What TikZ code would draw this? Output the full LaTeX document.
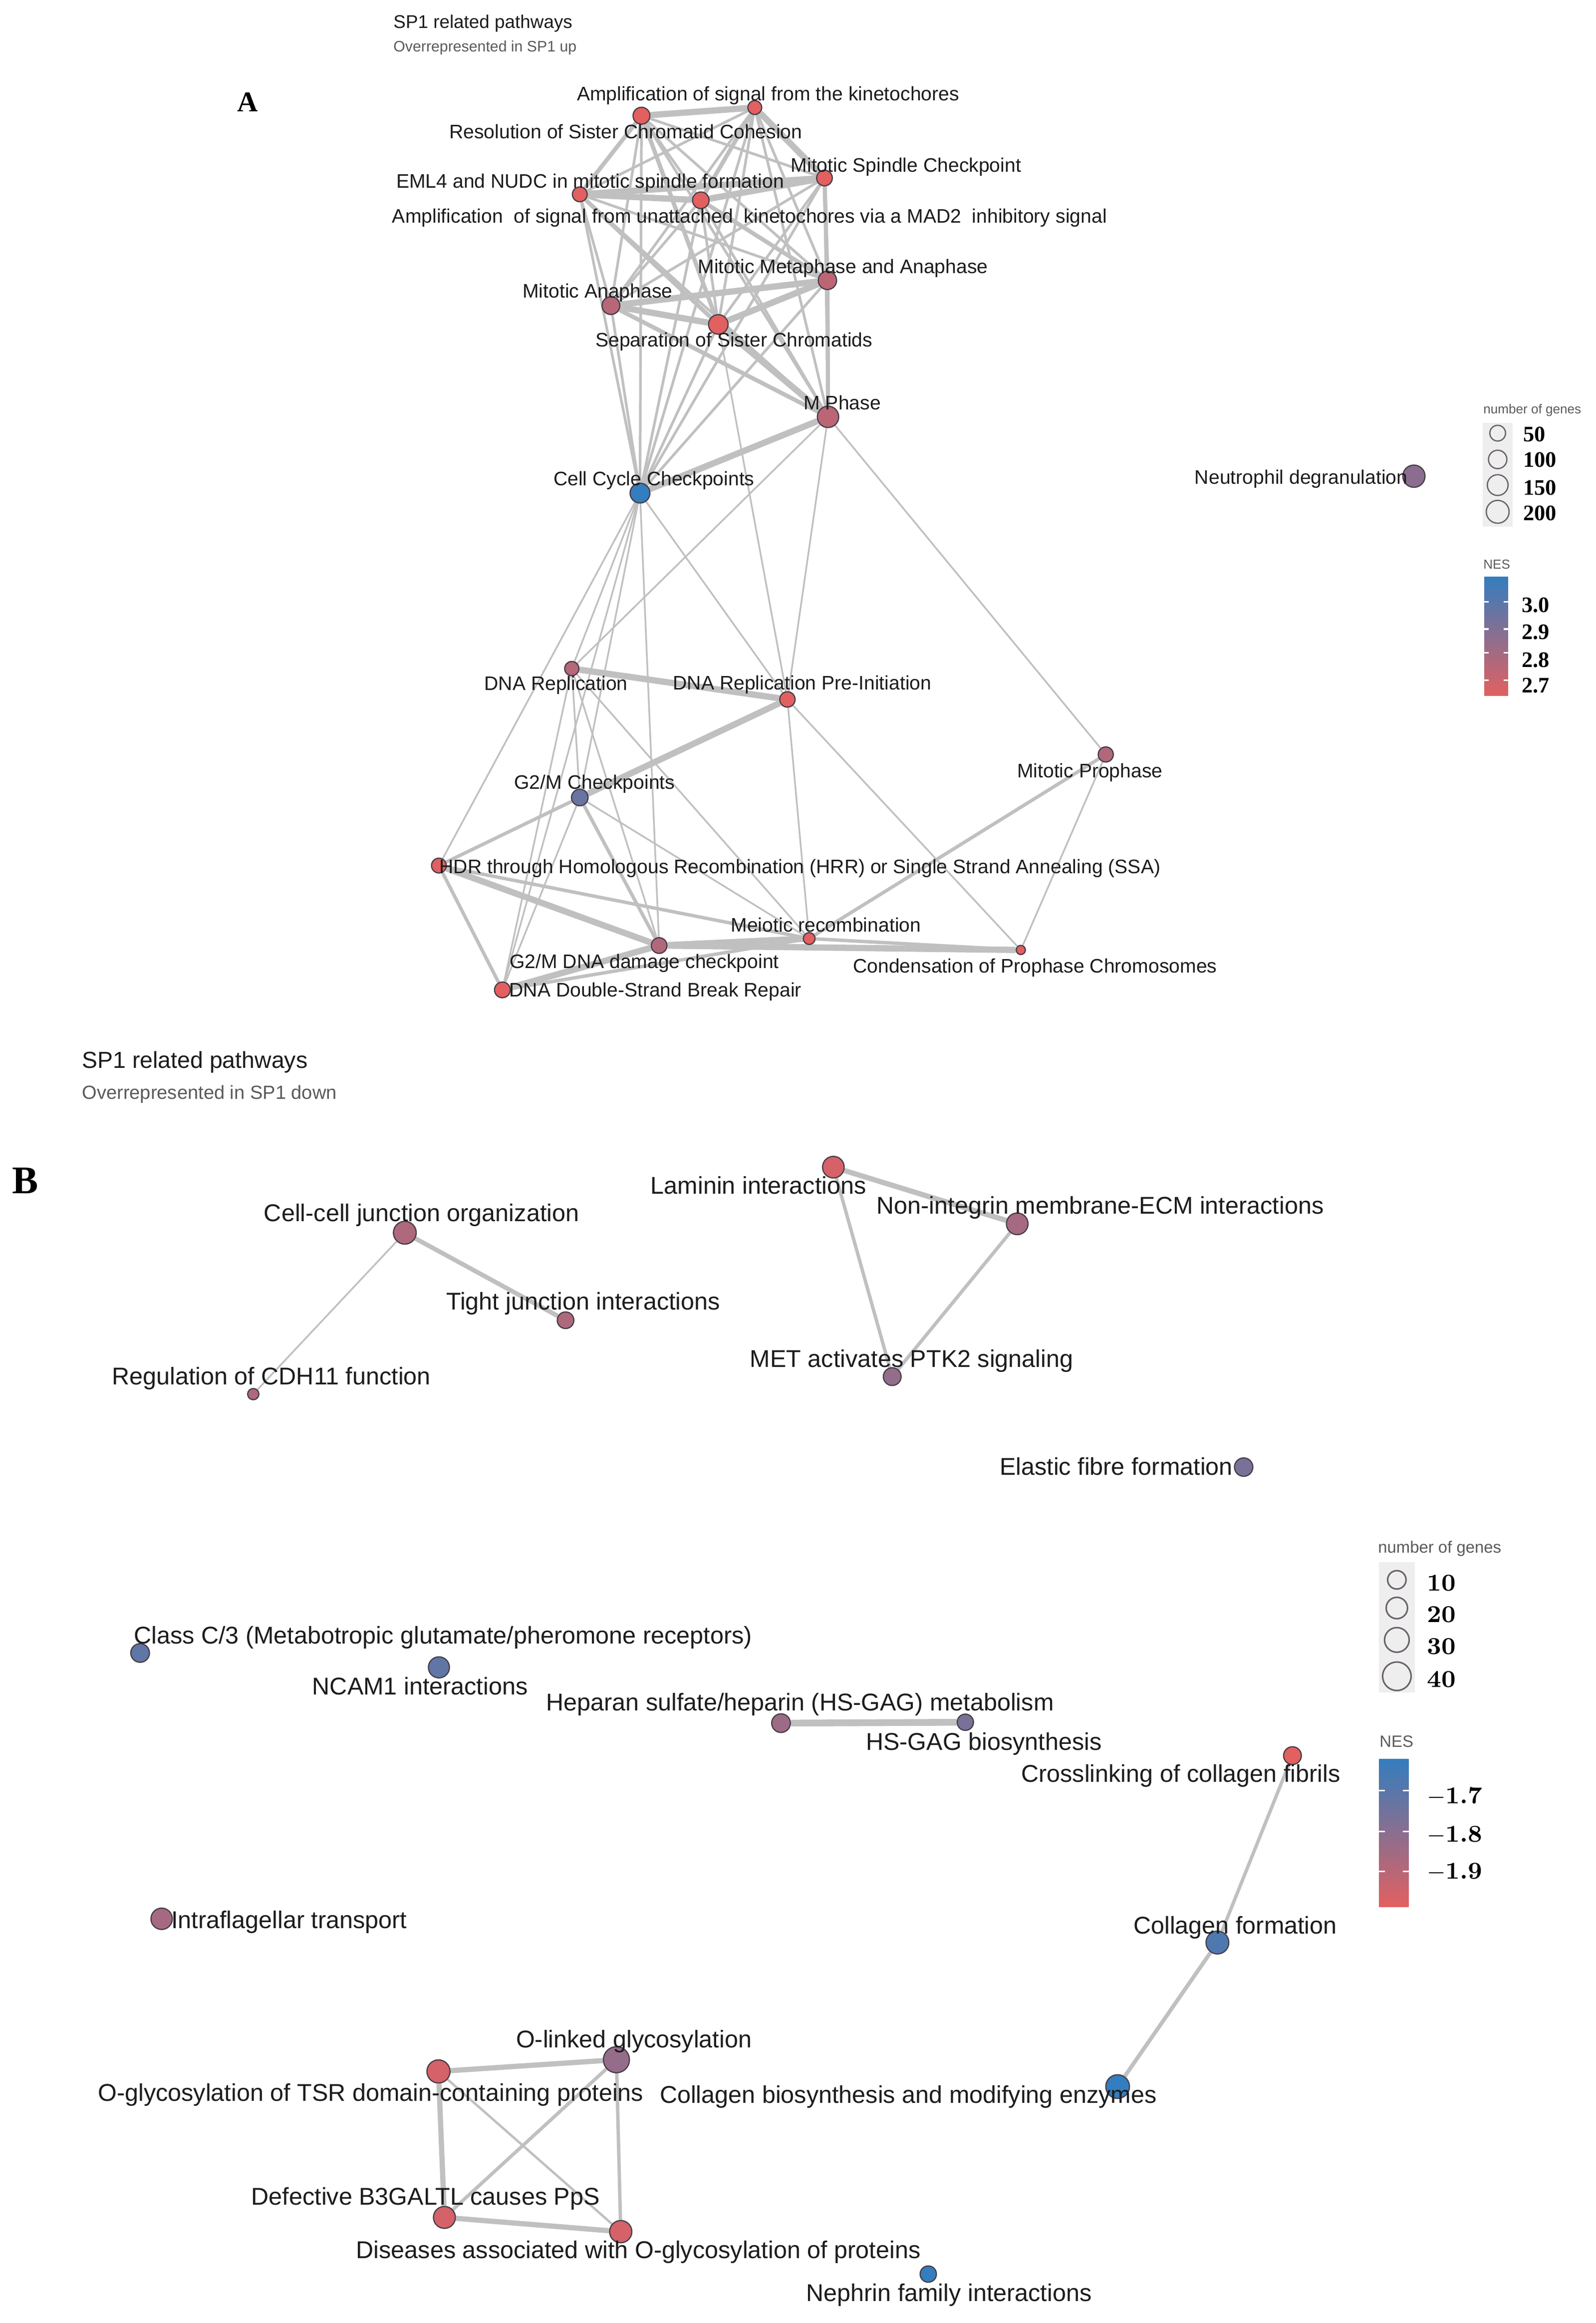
\documentclass[tikz,border=0pt]{standalone}
\usepackage{fontspec}
\newfontfamily\arialf{Liberation Sans}
\newfontfamily\tnrf{Liberation Serif}
\pgfdeclarelayer{bgpaper}
\pgfdeclarelayer{edgelayer}
\pgfsetlayers{bgpaper,edgelayer,main}
\definecolor{nred}{RGB}{226,96,96}
\definecolor{nblue}{RGB}{52,125,190}
\definecolor{edgec}{RGB}{192,192,192}
\definecolor{ringc}{RGB}{70,60,70}
\definecolor{txtc}{RGB}{28,28,28}
\definecolor{legc}{RGB}{90,90,90}
\definecolor{boxc}{RGB}{238,238,238}
\begin{document}
\begin{tikzpicture}[x=0.02cm,y=-0.02cm,
  gn/.style 2 args={circle,draw=ringc,line width=0.45pt,fill=#1,minimum size=#2*0.4mm,inner sep=0pt},
  eT/.style={draw=edgec,line width=0.65pt},
  eM/.style={draw=edgec,line width=1.3pt},
  eK/.style={draw=edgec,line width=2.4pt},
  lA/.style={font=\arialf\fontsize{7.5}{9}\selectfont,text=txtc,inner sep=0pt,anchor=mid},
  lB/.style={font=\arialf\fontsize{9.3}{11}\selectfont,text=txtc,inner sep=0pt,anchor=mid},
  legt/.style={inner sep=0pt,anchor=west,text=legc},
  legring/.style={draw=ringc!80,line width=0.5pt},
  tickw/.style={draw=white,line width=0.7pt}]
\begin{pgfonlayer}{bgpaper}
\fill[white] (0,0) rectangle (1076,1566);
\end{pgfonlayer}
\useasboundingbox (0,0) rectangle (1076,1566);

% ---------------- Panel A : nodes ----------------
\node[gn={nred}{4.7}] (ak) at (509,72.5) {};
\node[gn={nred}{5.7}] (rs) at (432.6,78) {};
\node[gn={nred}{5.3}] (ms) at (556,120) {};
\node[gn={nred}{5}] (em) at (391,131) {};
\node[gn={nred}{5.6}] (au) at (472.6,135) {};
\node[gn={nblue!22!nred}{6.2}] (mma) at (558,189) {};
\node[gn={nblue!25!nred}{6}] (ma) at (412,206) {};
\node[gn={nred}{6.6}] (ssc) at (484.4,218.7) {};
\node[gn={nblue!22!nred}{7.2}] (mp) at (558.4,281) {};
\node[gn={nblue}{6.7}] (ccc) at (431.6,332.4) {};
\node[gn={nblue!50!nred}{7.5}] (nd) at (953.5,321) {};
\node[gn={nblue!25!nred}{4.8}] (dr) at (385.6,450.7) {};
\node[gn={nred}{5.2}] (drp) at (531,471.5) {};
\node[gn={nblue!28!nred}{5.1}] (mpro) at (745.7,508.6) {};
\node[gn={nblue!70!nred}{5.6}] (g2m) at (391,537.6) {};
\node[gn={nred}{5}] (hdr) at (296,583.5) {};
\node[gn={nred}{4}] (mr) at (545.7,632.7) {};
\node[gn={nblue!28!nred}{5.3}] (g2d) at (444.5,637.4) {};
\node[gn={nred}{3.1}] (cpc) at (688.4,640.4) {};
\node[gn={nred}{5.3}] (dsb) at (338.8,667.3) {};

% ---------------- Panel B : nodes ----------------
\node[gn={nblue!8!nred}{7.3}] (lam) at (562,786.8) {};
\node[gn={nblue!35!nred}{7.3}] (non) at (686,825) {};
\node[gn={nblue!30!nred}{7.7}] (cell) at (273,831) {};
\node[gn={nblue!30!nred}{5.6}] (tight) at (381.4,890) {};
\node[gn={nblue!30!nred}{3.8}] (reg) at (170.8,939.8) {};
\node[gn={nblue!45!nred}{6}] (met) at (601.7,928) {};
\node[gn={nblue!60!nred}{6.2}] (ela) at (838.7,989) {};
\node[gn={nblue!75!nred}{6.3}] (cls) at (94.5,1114.3) {};
\node[gn={nblue!75!nred}{7.1}] (ncam) at (296,1124) {};
\node[gn={nblue!40!nred}{6.3}] (hep) at (526.7,1161.6) {};
\node[gn={nblue!60!nred}{5.5}] (hs) at (651,1161) {};
\node[gn={nred}{6}] (cross) at (871.6,1183.5) {};
\node[gn={nblue!35!nred}{7.2}] (intra) at (109,1293.5) {};
\node[gn={nblue!85!nred}{7.7}] (cf) at (821,1309.5) {};
\node[gn={nblue!45!nred}{8.8}] (ol) at (415.7,1388.5) {};
\node[gn={nblue!8!nred}{7.8}] (tsr) at (295.7,1396.4) {};
\node[gn={nblue}{8}] (cb) at (753.7,1406.6) {};
\node[gn={nblue!8!nred}{7.4}] (def) at (299.7,1494.8) {};
\node[gn={nblue!8!nred}{7.5}] (dis) at (418.6,1504.4) {};
\node[gn={nblue}{5.5}] (neph) at (626,1533) {};

% ---------------- Edges ----------------
\begin{pgfonlayer}{edgelayer}
% dense cluster of panel A
\foreach \a/\b in {ak/rs,ak/ms,ak/em,ak/au,ak/mma,ak/ma,ak/ssc,ak/mp,ak/ccc,
  rs/ms,rs/em,rs/au,rs/mma,rs/ma,rs/ssc,rs/mp,rs/ccc,
  ms/em,ms/au,ms/mma,ms/ma,ms/ssc,ms/mp,ms/ccc,
  em/au,em/mma,em/ma,em/ssc,em/mp,em/ccc,
  au/mma,au/ma,au/ssc,au/mp,au/ccc,
  mma/ma,mma/ssc,mma/mp,mma/ccc,
  ma/ssc,ma/mp,ma/ccc,
  ssc/mp,ssc/ccc}
  \draw[eT,line width=1pt] (\a) -- (\b);
\foreach \a/\b in {ak/au,rs/em,mma/mp,rs/ssc,ms/mma,em/ssc,au/mma,ma/mp}
  \draw[eM,line width=1.6pt] (\a) -- (\b);
\foreach \a/\b in {ak/rs,ak/ms,em/au,em/ms,au/ms,mma/ma,ma/ssc,ssc/mma,ssc/mp,mp/ccc}
  \draw[eK] (\a) -- (\b);
% lower part of panel A
\foreach \a/\b in {ccc/dr,ccc/drp,ccc/g2m,ccc/hdr,ccc/dsb,ccc/g2d,
  mp/dr,mp/drp,mp/mpro,ssc/drp,drp/mr,drp/cpc,mpro/cpc,g2m/mr,g2m/dsb,
  dr/g2m,dr/mr,dr/dsb,dr/g2d}
  \draw[eT] (\a) -- (\b);
\foreach \a/\b in {mpro/mr,g2m/hdr,g2m/g2d,hdr/mr,hdr/dsb,mr/cpc,dsb/mr}
  \draw[eM] (\a) -- (\b);
\foreach \a/\b in {dr/drp,drp/g2m,hdr/g2d,g2d/mr,g2d/cpc,g2d/dsb}
  \draw[eK] (\a) -- (\b);
% panel B
\draw[eM,line width=1.7pt] (cell) -- (tight);
\draw[eT] (cell) -- (reg);
\draw[eK,line width=2pt] (lam) -- (non);
\draw[eM] (lam) -- (met);
\draw[eM] (non) -- (met);
\draw[eK,line width=2.6pt] (hep) -- (hs);
\draw[eM] (cross) -- (cf);
\draw[eM,line width=1.5pt] (cf) -- (cb);
\draw[eK,line width=2pt] (ol) -- (tsr);
\draw[eK,line width=2pt] (tsr) -- (def);
\draw[eM] (ol) -- (dis);
\draw[eT,line width=0.9pt] (tsr) -- (dis);
\draw[eM] (ol) -- (def);
\draw[eK,line width=2pt] (def) -- (dis);
\end{pgfonlayer}

% ---------------- Panel A : labels ----------------
\node[lA] (t-ak) at (518,64) {Amplification of signal from the kinetochores};
\node[lA] (t-rs) at (422,89.5) {Resolution of Sister Chromatid Cohesion};
\node[lA] (t-ms) at (611,112) {Mitotic Spindle Checkpoint};
\node[lA] (t-em) at (398,123) {EML4 and NUDC in mitotic spindle formation};
\node[lA] (t-au) at (505.5,146.5) {Amplification\ \ of signal from unattached\ \ kinetochores via a MAD2\ \ inhibitory signal};
\node[lA] (t-mma) at (568.5,180.4) {Mitotic Metaphase and Anaphase};
\node[lA] (t-ma) at (403,197) {Mitotic Anaphase};
\node[lA] (t-ssc) at (495,230) {Separation of Sister Chromatids};
\node[lA] (t-mp) at (568,272.5) {M Phase};
\node[lA] (t-ccc) at (441,323.5) {Cell Cycle Checkpoints};
\node[lA] (t-nd) at (877.5,322.4) {Neutrophil degranulation};
\node[lA] (t-dr) at (375,461.5) {DNA Replication};
\node[lA] (t-drp) at (541,461) {DNA Replication Pre-Initiation};
\node[lA] (t-mpro) at (735,520.5) {Mitotic Prophase};
\node[lA] (t-g2m) at (401,528) {G2/M Checkpoints};
\node[lA] (t-hdr) at (539.5,585) {HDR through Homologous Recombination (HRR) or Single Strand Annealing (SSA)};
\node[lA] (t-mr) at (557,624.5) {Meiotic recombination};
\node[lA] (t-g2d) at (434.5,649) {G2/M DNA damage checkpoint};
\node[lA] (t-cpc) at (698,652) {Condensation of Prophase Chromosomes};
\node[lA] (t-dsb) at (442,668) {DNA Double-Strand Break Repair};

% ---------------- Panel B : labels ----------------
\node[lB] (t-lam) at (511.5,801) {Laminin interactions};
\node[lB] (t-non) at (742,814.6) {Non-integrin membrane-ECM interactions};
\node[lB] (t-cell) at (284.3,819.5) {Cell-cell junction organization};
\node[lB] (t-tight) at (393.3,879) {Tight junction interactions};
\node[lB] (t-reg) at (183,929.5) {Regulation of CDH11 function};
\node[lB] (t-met) at (614.8,917.7) {MET activates PTK2 signaling};
\node[lB] (t-ela) at (752.7,990.7) {Elastic fibre formation};
\node[lB] (t-cls) at (298.7,1104.4) {Class C/3 (Metabotropic glutamate/pheromone receptors)};
\node[lB] (t-ncam) at (283.3,1138.5) {NCAM1 interactions};
\node[lB] (t-hep) at (539.5,1149.5) {Heparan sulfate/heparin (HS-GAG) metabolism};
\node[lB] (t-hs) at (663.5,1176) {HS-GAG biosynthesis};
\node[lB] (t-cross) at (796.3,1197.5) {Crosslinking of collagen fibrils};
\node[lB] (t-intra) at (195,1296) {Intraflagellar transport};
\node[lB] (t-cf) at (833,1300) {Collagen formation};
\node[lB] (t-ol) at (427.5,1376.5) {O-linked glycosylation};
\node[lB] (t-tsr) at (250,1412.5) {O-glycosylation of TSR domain-containing proteins};
\node[lB] (t-cb) at (612.5,1414) {Collagen biosynthesis and modifying enzymes};
\node[lB] (t-def) at (287,1482.5) {Defective B3GALTL causes PpS};
\node[lB] (t-dis) at (430.5,1518.5) {Diseases associated with O-glycosylation of proteins};
\node[lB] (t-neph) at (640,1547.5) {Nephrin family interactions};

% ---------------- Titles and panel letters ----------------
\node[inner sep=0pt,anchor=west,text=txtc,font=\arialf\fontsize{7.06}{8}\selectfont] (titA) at (265,15.8) {SP1 related pathways};
\node[inner sep=0pt,anchor=west,text=legc,font=\arialf\fontsize{5.8}{7}\selectfont] (subA) at (265,32.3) {Overrepresented in SP1 up};
\node[inner sep=0pt,anchor=west,text=txtc,font=\arialf\fontsize{8.9}{10}\selectfont] (titB) at (55,716) {SP1 related pathways};
\node[inner sep=0pt,anchor=west,text=legc,font=\arialf\fontsize{7.3}{9}\selectfont] (subB) at (55,737.7) {Overrepresented in SP1 down};
\node[inner sep=0pt,font=\tnrf\bfseries\fontsize{11}{12}\selectfont] (letA) at (167,69) {A};
\node[inner sep=0pt,font=\tnrf\bfseries\fontsize{15}{16}\selectfont] (letB) at (17.2,796) {B};

% ---------------- Legend A ----------------
\node[legt,font=\arialf\fontsize{5}{6}\selectfont] (ngA) at (1000,276.5) {number of genes};
\fill[boxc] (1000,285) rectangle (1020,355);
\draw[legring] (1010,292) circle[radius=5.3];
\draw[legring] (1010,309.7) circle[radius=6.2];
\draw[legring] (1010,327) circle[radius=7];
\draw[legring] (1010,345) circle[radius=7.7];
\node[legt,text=black,font=\tnrf\bfseries\fontsize{8.5}{9}\selectfont] (nA1) at (1027,292.7) {50};
\node[legt,text=black,font=\tnrf\bfseries\fontsize{8.5}{9}\selectfont] (nA2) at (1027,310) {100};
\node[legt,text=black,font=\tnrf\bfseries\fontsize{8.5}{9}\selectfont] (nA3) at (1027,328.7) {150};
\node[legt,text=black,font=\tnrf\bfseries\fontsize{8.5}{9}\selectfont] (nA4) at (1027,346) {200};
\node[legt,font=\arialf\fontsize{5}{6}\selectfont] (nesA) at (1000,380.5) {NES};
\shade[top color=nblue,bottom color=nred] (1001,389) rectangle (1017,469);
\foreach \y in {405.7,424,440,458.6}{
  \draw[tickw] (1001,\y) -- (1004,\y);
  \draw[tickw] (1014,\y) -- (1017,\y);}
\node[legt,text=black,font=\tnrf\bfseries\fontsize{8.5}{9}\selectfont] (vA1) at (1026,408) {3.0};
\node[legt,text=black,font=\tnrf\bfseries\fontsize{8.5}{9}\selectfont] (vA2) at (1026,426) {2.9};
\node[legt,text=black,font=\tnrf\bfseries\fontsize{8.5}{9}\selectfont] (vA3) at (1026,445) {2.8};
\node[legt,text=black,font=\tnrf\bfseries\fontsize{8.5}{9}\selectfont] (vA4) at (1026,462) {2.7};

% ---------------- Legend B ----------------
\node[legt,font=\arialf\fontsize{6.3}{7}\selectfont] (ngB) at (929,1044) {number of genes};
\fill[boxc] (930,1053) rectangle (954,1141);
\draw[legring,line width=0.6pt] (942,1065) circle[radius=6.2];
\draw[legring,line width=0.6pt] (942,1084) circle[radius=7.2];
\draw[legring,line width=0.6pt] (942,1105.5) circle[radius=8.3];
\draw[legring,line width=0.6pt] (942,1130) circle[radius=9.6];
\node[legt,text=black,font=\bfseries\fontsize{9.3}{10}\selectfont] (nB1) at (962,1067) {10};
\node[legt,text=black,font=\bfseries\fontsize{9.3}{10}\selectfont] (nB2) at (962,1088.5) {20};
\node[legt,text=black,font=\bfseries\fontsize{9.3}{10}\selectfont] (nB3) at (962,1110) {30};
\node[legt,text=black,font=\bfseries\fontsize{9.3}{10}\selectfont] (nB4) at (962,1132) {40};
\node[legt,font=\arialf\fontsize{6.3}{7}\selectfont] (nesB) at (930,1174) {NES};
\shade[top color=nblue,bottom color=nred] (930,1186) rectangle (950,1285.5);
\foreach \y in {1207,1234.6,1261.6}{
  \draw[tickw] (930,\y) -- (934,\y);
  \draw[tickw] (946,\y) -- (950,\y);}
\node[legt,text=black,font=\bfseries\fontsize{9.3}{10}\selectfont] (vB1) at (962,1211) {$-$1.7};
\node[legt,text=black,font=\bfseries\fontsize{9.3}{10}\selectfont] (vB2) at (962,1237) {$-$1.8};
\node[legt,text=black,font=\bfseries\fontsize{9.3}{10}\selectfont] (vB3) at (962,1262) {$-$1.9};
\end{tikzpicture}
\end{document}
